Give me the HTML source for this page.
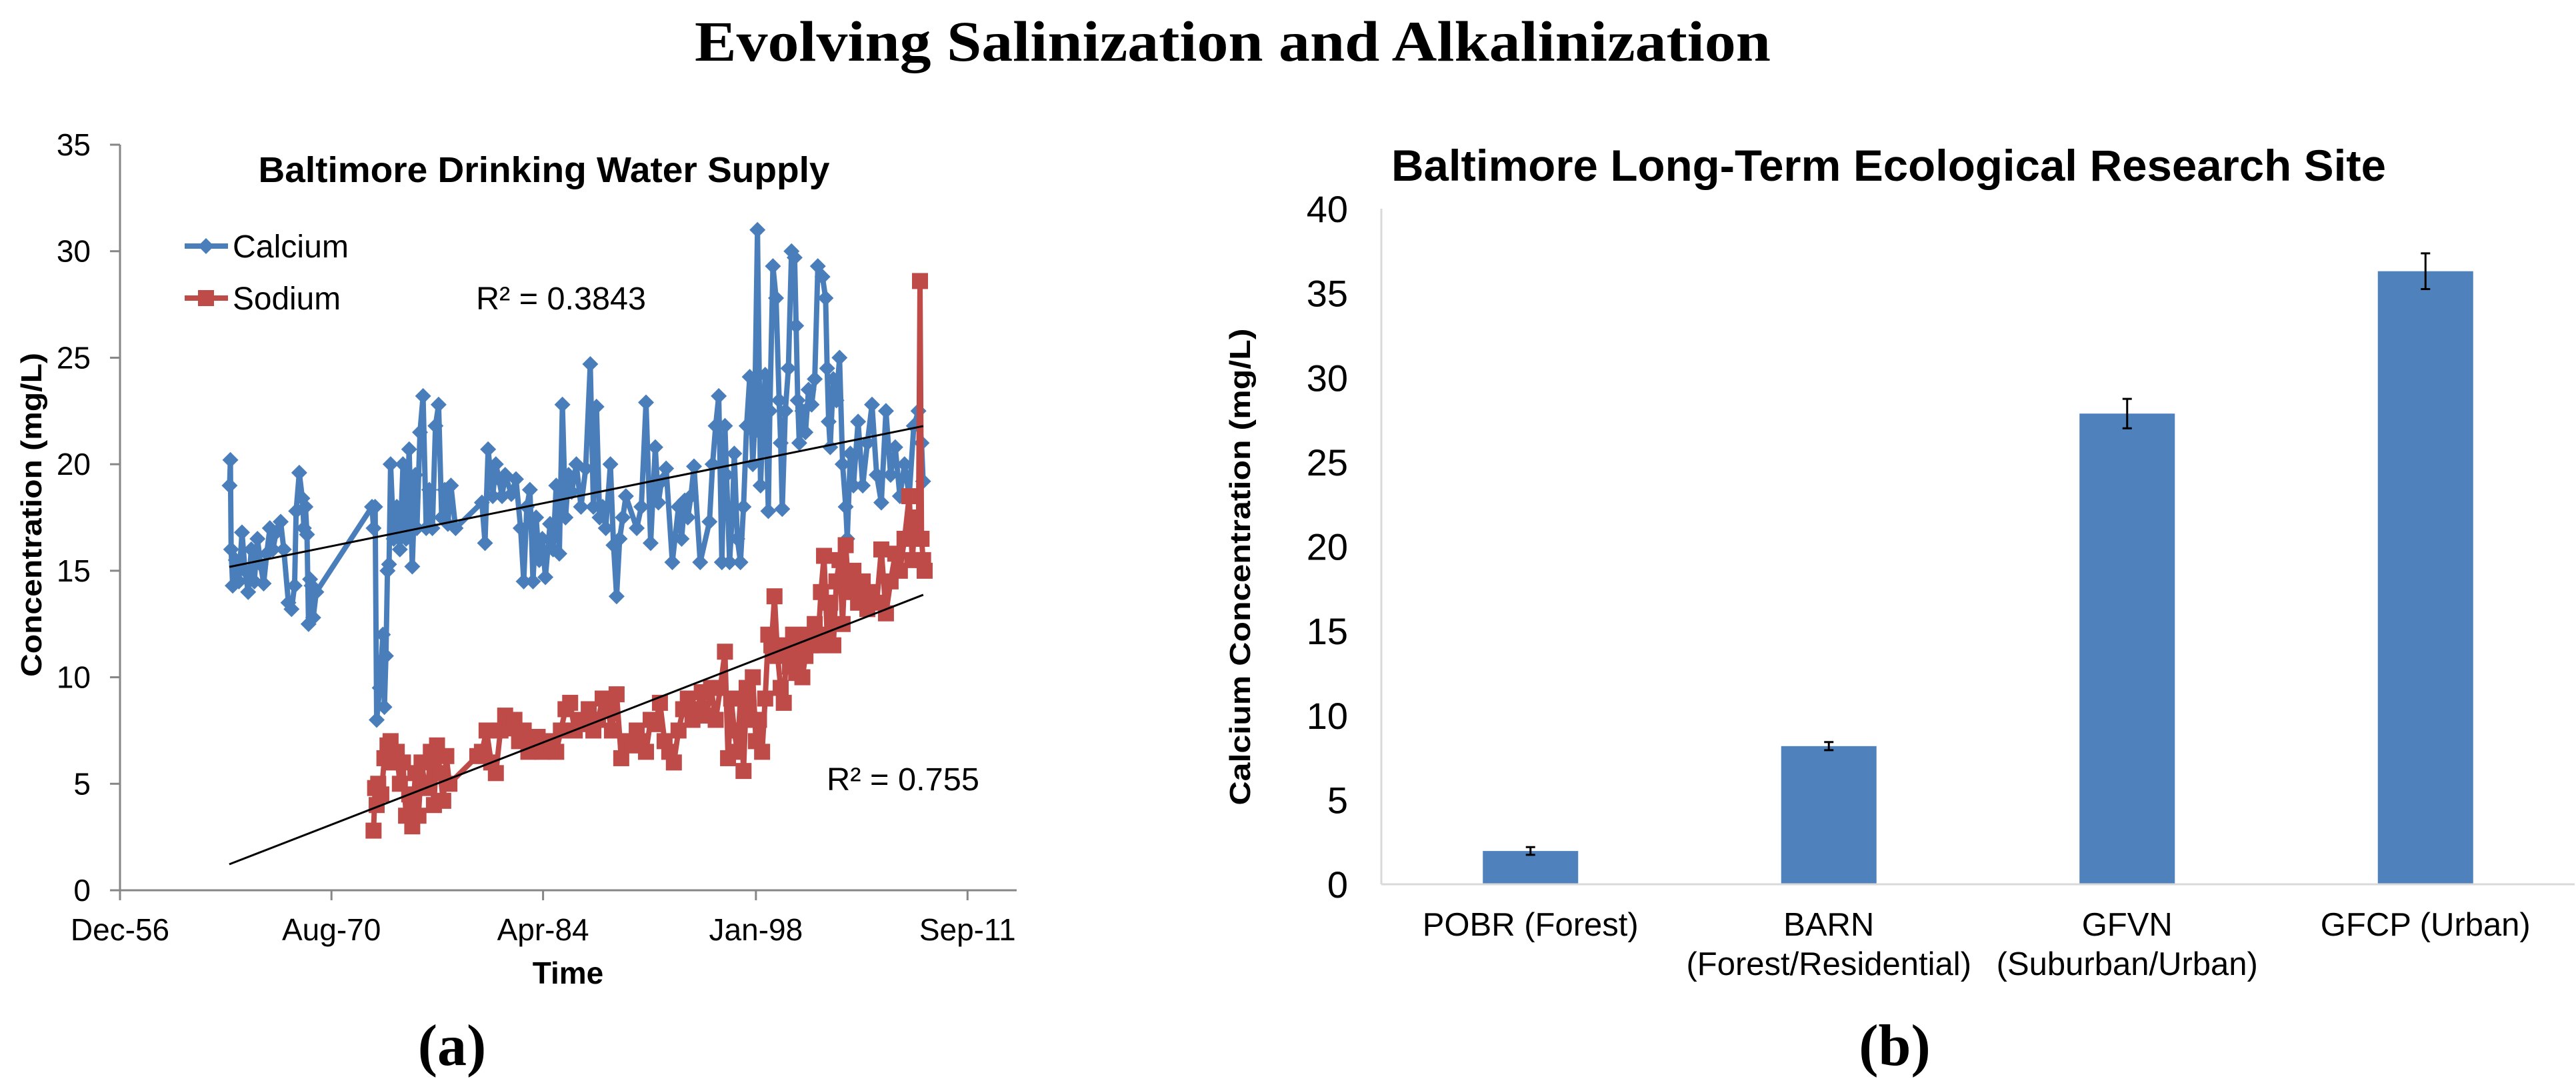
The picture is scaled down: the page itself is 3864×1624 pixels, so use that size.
<!DOCTYPE html>
<html><head><meta charset="utf-8"><style>
html,body{margin:0;padding:0;background:#fff;}
svg{display:block;}
text{font-family:"Liberation Sans",Arial,sans-serif;}
</style></head><body>
<svg id="fig" width="3864" height="1624" viewBox="0 0 3864 1624" xmlns="http://www.w3.org/2000/svg">
<text x="1849" y="91" text-anchor="middle" font-family="Liberation Serif, serif" font-weight="bold" font-size="86" textLength="1614" lengthAdjust="spacingAndGlyphs" style="font-family:'Liberation Serif',serif">Evolving Salinization and Alkalinization</text>
<g id="left"></g>
<g id="right"></g>
<text x="678" y="1597" text-anchor="middle" font-weight="bold" font-size="88" style="font-family:'Liberation Serif',serif">(<tspan>a</tspan>)</text>
<text x="2842" y="1597" text-anchor="middle" font-weight="bold" font-size="88" style="font-family:'Liberation Serif',serif">(b)</text>
</svg>
<script>
// ---------- Left chart data ----------
const caYears = [1964.0,1964.05,1964.1,1964.2,1964.4,1964.6,1964.8,1965.0,1965.2,1965.4,1965.6,1965.8,1966.0,1966.2,1966.4,1966.6,1966.8,1967.0,1967.3,1967.5,1967.8,1968.0,1968.2,1968.3,1968.5,1968.7,1968.8,1968.9,1969.0,1969.1,1969.2,1969.3,1969.4,1969.6,1973.2,1973.3,1973.4,1973.5,1973.7,1973.9,1974.0,1974.1,1974.2,1974.3,1974.4,1974.6,1974.8,1975.0,1975.2,1975.4,1975.6,1975.8,1976.0,1976.1,1976.3,1976.5,1976.7,1976.9,1977.1,1977.3,1977.5,1977.7,1977.9,1978.1,1978.3,1978.6,1980.3,1980.5,1980.7,1981.0,1981.2,1981.4,1981.6,1981.8,1982.2,1982.5,1982.8,1983.0,1983.2,1983.4,1983.6,1983.8,1984.0,1984.2,1984.4,1984.7,1984.9,1985.1,1985.3,1985.5,1985.7,1985.9,1986.1,1986.4,1986.7,1987.0,1987.3,1987.5,1987.7,1987.9,1988.1,1988.3,1988.6,1988.8,1989.0,1989.2,1989.4,1989.6,1990.3,1990.6,1990.9,1991.2,1991.5,1991.7,1991.9,1992.2,1992.6,1993.0,1993.2,1993.4,1993.6,1993.8,1994.0,1994.4,1995.0,1995.2,1995.4,1995.6,1995.8,1996.0,1996.1,1996.3,1996.5,1996.6,1996.8,1997.0,1997.2,1997.4,1997.6,1997.8,1997.9,1998.1,1998.3,1998.5,1998.6,1998.8,1998.9,1999.1,1999.3,1999.5,1999.6,1999.7,1999.9,2000.1,2000.3,2000.5,2000.6,2000.7,2000.8,2001.0,2001.2,2001.4,2001.6,2001.8,2002.0,2002.3,2002.5,2002.6,2002.7,2002.8,2003.0,2003.2,2003.4,2003.6,2003.8,2003.9,2004.1,2004.3,2004.6,2004.9,2005.2,2005.5,2005.8,2006.1,2006.4,2006.7,2007.0,2007.3,2007.6,2007.9,2008.2,2008.5,2008.7,2008.8,2008.9];
const caValues = [19,20.2,16,14.3,15.5,14.5,16.8,15,14,16,14.5,16.5,15.3,14.4,15.8,17,16,16.8,17.3,16,13.5,13.2,14.3,17.8,19.6,18.4,17,18,16.7,12.5,14.6,14.3,12.8,14,18,17,18,8,9.5,12,8.6,11,15,15.3,20,16.5,18,16,20,16.5,20.7,15.2,19.5,17,21.5,23.2,17,18.8,17,21.8,22.8,17.5,18.8,17.2,19,17,18.2,16.3,20.7,18.5,20,19.3,18.5,19.5,18.6,19.3,17,14.5,18,18.8,14.5,17.5,15.5,16.5,14.7,17.2,16,19,15.8,22.8,17.5,19.5,18.7,20,18,19.8,24.7,18,22.7,17.5,18,17,20,16.2,13.8,16.5,17.5,18.5,17,18,22.9,16.3,20.8,18.2,19.2,19.8,15.4,18,16.5,18.3,17.5,18.5,19.9,15.4,17.3,20,21.8,23.2,15.4,21.8,19.5,15.4,18,20.5,16.5,15.4,18,21.8,24.1,20,21.5,31,19,22.8,24.2,17.8,22.5,29.3,27.8,23,21,17.9,22.5,24.5,30,29.7,26.5,23,21,22.5,21.5,23.5,22.8,24,29.3,28.8,27.8,24.5,22,20.8,24,23,25,20,18,16.5,20.5,19,22,19,21,22.8,19.5,18.2,22.5,19.5,20.8,18.5,20,18.5,21.8,22.5,21,19.2];
const naYears = [1973.3,1973.4,1973.5,1973.6,1973.8,1974.0,1974.2,1974.4,1974.6,1974.8,1975.0,1975.2,1975.4,1975.6,1975.8,1976.0,1976.2,1976.4,1976.6,1976.8,1977.0,1977.2,1977.4,1977.6,1977.8,1978.0,1978.2,1980.0,1980.3,1980.6,1980.9,1981.2,1981.5,1981.8,1982.1,1982.4,1982.7,1983.0,1983.3,1983.6,1983.9,1984.2,1984.5,1984.8,1985.1,1985.4,1985.7,1986.0,1986.3,1986.6,1986.9,1987.2,1987.5,1987.8,1988.1,1988.4,1988.7,1989.0,1989.3,1989.6,1990.0,1990.3,1990.6,1990.9,1991.2,1991.5,1991.8,1992.1,1992.4,1992.7,1993.0,1993.3,1993.6,1993.9,1994.2,1994.5,1994.8,1995.1,1995.4,1995.7,1996.0,1996.2,1996.4,1996.6,1996.8,1997.0,1997.2,1997.4,1997.6,1997.8,1998.0,1998.2,1998.4,1998.6,1998.8,1999.0,1999.2,1999.4,1999.6,1999.8,2000.0,2000.2,2000.4,2000.6,2000.8,2001.0,2001.2,2001.4,2001.6,2001.8,2002.0,2002.2,2002.4,2002.6,2002.8,2003.0,2003.2,2003.4,2003.6,2003.8,2004.0,2004.3,2004.6,2004.9,2005.2,2005.5,2005.8,2006.1,2006.4,2006.7,2007.0,2007.3,2007.6,2007.9,2008.1,2008.3,2008.5,2008.6,2008.7,2008.8,2008.9];
const naValues = [2.8,4.8,4,5,4.5,6.2,6.8,7,6,6.5,5,6,3.5,4.5,3,5.5,3.5,6,5,4.8,6.5,4,6.8,5.5,4.2,6.3,5,6.3,6.5,7.5,6,5.5,7.5,8.2,7.6,8,7,7.5,6.5,7,7.2,6.5,7,6.8,6.5,7.5,8.5,8.8,7.5,8,7.8,8.5,7.5,8,9,8.5,7.5,9.2,6.2,7,6.8,7.5,7,6.5,8,7.8,8.8,7,6.5,6,7.5,8.5,9,8,8.5,9.3,8.2,9.5,8,9.5,11.2,6.2,9,7.5,6.5,9,5.6,9.5,8,10,7,8,6.5,9,12,11.5,13.8,11,9.5,8.8,11.5,10.5,12,10.2,11.5,10,11,12,11.5,12.5,11.5,14,15.7,12,13.5,11.5,14.5,15.5,12.5,16.2,14,15,13.5,14.5,13.2,14,13.5,16,13,14.5,15.8,15,16.5,18.5,15.5,17.5,16.5,28.6,16.5,15.5,15];
const caTrendYears = [1963.98, 2008.81];
const caTrendValues = [15.18, 21.79];
const naTrendYears = [1963.98, 2008.81];
const naTrendValues = [1.22, 13.87];
const yTicksL = [0,5,10,15,20,25,30,35];
const xTickYears = [1956.92,1970.58,1984.25,1998.0,2011.67];
const xTickLabels = ["Dec-56","Aug-70","Apr-84","Jan-98","Sep-11"];

// ---------- Right chart data ----------
const sites = [["POBR (Forest)"],["BARN","(Forest/Residential)"],["GFVN","(Suburban/Urban)"],["GFCP (Urban)"]];
const caMeans = [1.97, 8.18, 27.87, 36.3];
const caErrors = [0.23, 0.24, 0.87, 1.06];
const yTicksR = [0,5,10,15,20,25,30,35,40];

const NS = "http://www.w3.org/2000/svg";
function mk(parent, tag, attrs, text){
  const e = document.createElementNS(NS, tag);
  for (const k in attrs) e.setAttribute(k, attrs[k]);
  if (text !== undefined) e.textContent = text;
  parent.appendChild(e);
  return e;
}

// ---- left axes
const L = document.getElementById('left');
const lx0 = 180, ly0 = 1335, lyTop = 217;
const pxPerYear = 23.22;
function xL(y){ return lx0 + (y - 1956.92) * pxPerYear; }
function yL(v){ return ly0 - v * (ly0 - lyTop) / 35; }

let ax = mk(L,'line',{x1:lx0,y1:lyTop,x2:lx0,y2:ly0,stroke:'#868686','stroke-width':3});


ax = mk(L,'line',{x1:lx0,y1:ly0,x2:1525,y2:ly0,stroke:'#868686','stroke-width':3});


yTicksL.forEach(v=>{
  const t = mk(L,'line',{x1:165,y1:yL(v),x2:lx0,y2:yL(v),stroke:'#868686','stroke-width':3});
  
  
  const lb = mk(L,'text',{x:136,y:yL(v)+16,'text-anchor':'end','font-size':46},String(v));
  
  
});
xTickYears.forEach((yr,i)=>{
  const t = mk(L,'line',{x1:xL(yr),y1:ly0,x2:xL(yr),y2:1350,stroke:'#868686','stroke-width':3});
  
  
  const lb = mk(L,'text',{x:xL(yr),y:1410,'text-anchor':'middle','font-size':46},xTickLabels[i]);
  
  
});
let tt = mk(L,'text',{x:816,y:273,'text-anchor':'middle','font-size':54,'font-weight':'bold',textLength:857,lengthAdjust:'spacingAndGlyphs'},'Baltimore Drinking Water Supply');


tt = mk(L,'text',{x:852,y:1475,'text-anchor':'middle','font-size':46,'font-weight':'bold'},'Time');


tt = mk(L,'text',{x:0,y:0,'text-anchor':'middle','font-size':44,'font-weight':'bold',transform:'translate(62,772) rotate(-90)',textLength:486,lengthAdjust:'spacingAndGlyphs'},'Concentration (mg/L)');



function series(years, vals, color, shape, name){
  const g = mk(L,'g',{});
  
  
  const pts = years.map((y,i)=>xL(y).toFixed(1)+','+yL(vals[i]).toFixed(1)).join(' ');
  const pl = mk(g,'polyline',{points:pts,fill:'none',stroke:color,'stroke-width':8,'stroke-linejoin':'round'});
  
  
  years.forEach((y,i)=>{
    const cx = xL(y), cy = yL(vals[i]);
    let m;
    if (shape==='diamond') m = mk(g,'polygon',{points:`${cx},${cy-12} ${cx+12},${cy} ${cx},${cy+12} ${cx-12},${cy}`,fill:color});
    else m = mk(g,'rect',{x:cx-12,y:cy-12,width:24,height:24,fill:color});
    
    
  });
}
series(caYears, caValues, '#4a7ebb', 'diamond', 'calcium-series');
series(naYears, naValues, '#be4b48', 'square', 'sodium-series');
let tl = mk(L,'line',{x1:xL(caTrendYears[0]),y1:yL(caTrendValues[0]),x2:xL(caTrendYears[1]),y2:yL(caTrendValues[1]),stroke:'#000','stroke-width':3});


tl = mk(L,'line',{x1:xL(naTrendYears[0]),y1:yL(naTrendValues[0]),x2:xL(naTrendYears[1]),y2:yL(naTrendValues[1]),stroke:'#000','stroke-width':3});



// legend
let lg = mk(L,'g',{});


let le = mk(lg,'line',{x1:277,y1:369,x2:342,y2:369,stroke:'#4a7ebb','stroke-width':8});


le = mk(lg,'polygon',{points:'309,357 321,369 309,381 297,369',fill:'#4a7ebb'});


le = mk(lg,'text',{x:349,y:386,'font-size':48,textLength:174,lengthAdjust:'spacingAndGlyphs'},'Calcium');


le = mk(lg,'line',{x1:277,y1:447,x2:342,y2:447,stroke:'#be4b48','stroke-width':8});


le = mk(lg,'rect',{x:297,y:435,width:24,height:24,fill:'#be4b48'});


le = mk(lg,'text',{x:349,y:464,'font-size':48,textLength:162,lengthAdjust:'spacingAndGlyphs'},'Sodium');


le = mk(L,'text',{x:714,y:464,'font-size':48,textLength:255,lengthAdjust:'spacingAndGlyphs'},'R² = 0.3843');


le = mk(L,'text',{x:1240,y:1185,'font-size':48,textLength:229,lengthAdjust:'spacingAndGlyphs'},'R² = 0.755');



// ---- right chart
const R = document.getElementById('right');
const rx0 = 2072, ry0 = 1326, ryTop = 313, rx1 = 3862;
const band = (rx1 - rx0) / sites.length;
function yR(v){ return ry0 - v * (ry0 - ryTop) / 40; }
function xR(i){ return rx0 + band * (i + 0.5); }
ax = mk(R,'line',{x1:rx0,y1:ryTop,x2:rx0,y2:ry0,stroke:'#d9d9d9','stroke-width':3});


yTicksR.forEach(v=>{
  const lb = mk(R,'text',{x:2022,y:yR(v)+20,'text-anchor':'end','font-size':56},String(v));
  
  
});
caMeans.forEach((v,i)=>{
  const b = mk(R,'rect',{x:xR(i)-71.5,y:yR(v),width:143,height:ry0-yR(v),fill:'#4f81bd'});
  
  
  const e = caErrors[i], cx = xR(i);
  const eg = mk(R,'path',{d:`M${cx},${yR(v+e)}V${yR(v-e)}M${cx-7},${yR(v+e)}H${cx+7}M${cx-7},${yR(v-e)}H${cx+7}`,stroke:'#000','stroke-width':3,fill:'none'});
  
  
  sites[i].forEach((ln,j)=>{
    const lb = mk(R,'text',{x:cx,y:1403+j*59,'text-anchor':'middle','font-size':49},ln);
    
    
  });
});
ax = mk(R,'line',{x1:rx0,y1:ry0,x2:rx1,y2:ry0,stroke:'#d9d9d9','stroke-width':3});


tt = mk(R,'text',{x:2087,y:271,'font-size':66,'font-weight':'bold',textLength:1492,lengthAdjust:'spacingAndGlyphs'},'Baltimore Long-Term Ecological Research Site');


tt = mk(R,'text',{x:0,y:0,'text-anchor':'middle','font-size':44,'font-weight':'bold',transform:'translate(1875,850) rotate(-90)',textLength:715,lengthAdjust:'spacingAndGlyphs'},'Calcium Concentration (mg/L)');


</script>
</body></html>
